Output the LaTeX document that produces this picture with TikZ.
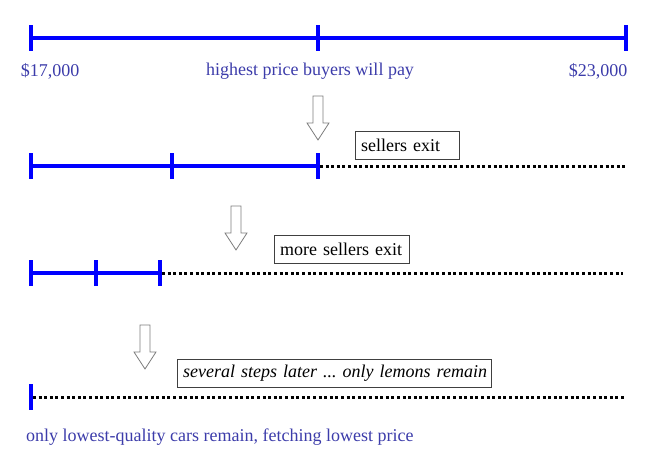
\documentclass[tikz,border=0pt]{standalone}
\usepackage{fontspec}
\setmainfont{Liberation Serif}
\definecolor{pricetext}{RGB}{60,60,170}
\definecolor{arrowgray}{RGB}{125,125,125}
\tikzset{
	scale line/.style={line width=3.5pt,blue},
	exit line/.style={line width=3pt,black,dash pattern=on 3pt off 2.6pt},
	pricelabel/.style={text=pricetext,font=\fontsize{18}{20}\selectfont,inner sep=0pt},
	notebox/.style={draw,thin,black!75,text=black,font=\fontsize{18}{20}\selectfont\frenchspacing,
		anchor=north west,inner xsep=6pt,inner ysep=0pt,minimum height=28pt,align=left},
	downarrow/.style={draw=arrowgray,fill=white,line width=0.8pt}
}
\newcommand{\exitarrow}[2]{% x, top y
	\draw[downarrow](#1-5,#2)--(#1+5,#2)--(#1+5,#2+27)--(#1+11,#2+27)--(#1,#2+44)
		--(#1-11,#2+27)--(#1-5,#2+27)--cycle;}
\newcommand{\pricetick}[2]{% x, y
	\draw[scale line](#1,#2-13)--(#1,#2+13);}
\begin{document}
\begin{tikzpicture}[x=1pt,y=-1pt]
		\useasboundingbox (0,0) rectangle (665,472);
		
		% full range of prices
		\draw[scale line](31,38)--(626,38);
		\pricetick{31}{38}
		\pricetick{318}{38}
		\pricetick{626}{38}
		\node[pricelabel] (low) at (50,71){\$17,000};
		\node[pricelabel] (mid) at (310,71){highest price buyers will pay};
		\node[pricelabel] (high) at (598,71){\$23,000};
		
		% first round
		\exitarrow{318}{96}
		\draw[scale line](31,166)--(318,166);
		\draw[exit line](320,166)--(626,166);
		\pricetick{31}{166}
		\pricetick{172}{166}
		\pricetick{318}{166}
		\node[notebox,text width=92pt] (exit1) at (355,131){sellers exit};
		
		% second round
		\exitarrow{236}{206}
		\draw[scale line](31,273)--(160,273);
		\draw[exit line](162,273)--(623,273);
		\pricetick{31}{273}
		\pricetick{96}{273}
		\pricetick{160}{273}
		\node[notebox,text width=123pt] (exit2) at (274,235){more sellers exit};
		
		% only lemons left
		\exitarrow{145}{325}
		\draw[exit line](33,397)--(626,397);
		\pricetick{31}{397}
		\node[notebox,text width=302pt,font=\fontsize{18}{20}\selectfont\itshape\frenchspacing] (exit3) at (177,359){\mbox{several steps later ... only lemons remain}};
		\node[pricelabel,anchor=west] (lemons) at (26,437){only lowest-quality cars remain, fetching lowest price};
		\end{tikzpicture}
\end{document}
